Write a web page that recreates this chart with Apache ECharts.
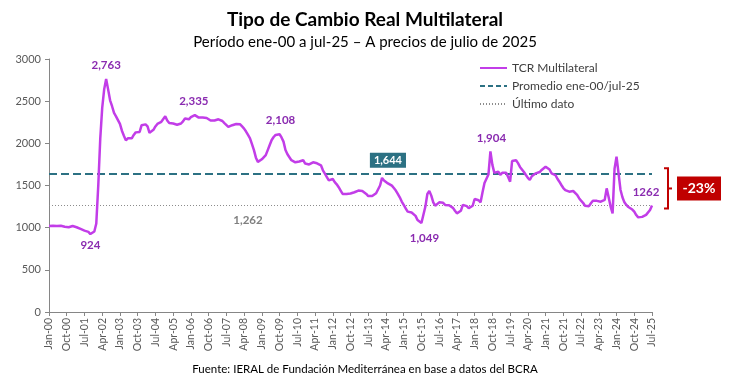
<!DOCTYPE html>
<html>
<head>
<meta charset="utf-8">
<script src="https://cdn.jsdelivr.net/npm/echarts@6/dist/echarts.min.js"></script>
<style>
  html, body { margin: 0; padding: 0; background: #fff; }
  #chart { width: 730px; height: 376px; }
</style>
</head>
<body>
<div id="chart"></div>
<script>
// TCR multilateral mensual, ene-00 a jul-25 (a precios de julio de 2025)
const tcr = [
  1020, 1025, 1022, 1028, 1020, 1015, 1022, 1018, 1010, 995, 1005, 1015,   // 2000
  1020, 1012, 1005, 998, 985, 975, 965, 958, 950, 924, 935, 955,           // 2001
  1050, 1500, 2050, 2420, 2640, 2763, 2640, 2510, 2440, 2360, 2320, 2300,  // 2002
  2230, 2150, 2090, 2035, 2060, 2075, 2060, 2100, 2130, 2140, 2135, 2215,  // 2003
  2230, 2225, 2200, 2125, 2140, 2160, 2200, 2230, 2240, 2255, 2270, 2320,  // 2004
  2270, 2240, 2225, 2235, 2240, 2220, 2200, 2235, 2260, 2295, 2290, 2285,  // 2005
  2310, 2325, 2335, 2320, 2305, 2295, 2305, 2315, 2300, 2290, 2270, 2265,  // 2006
  2270, 2280, 2285, 2275, 2265, 2240, 2220, 2195, 2205, 2215, 2225, 2230,  // 2007
  2225, 2225, 2200, 2175, 2140, 2100, 2060, 1990, 1920, 1830, 1780, 1790,  // 2008
  1811, 1830, 1860, 1920, 1980, 2040, 2075, 2100, 2105, 2108, 2070, 2020,  // 2009
  1920, 1870, 1850, 1800, 1783, 1775, 1780, 1785, 1790, 1800, 1760, 1743,  // 2010
  1750, 1760, 1775, 1770, 1763, 1750, 1740, 1680, 1640, 1600, 1560, 1555,  // 2011
  1577, 1540, 1514, 1480, 1440, 1400, 1395, 1400, 1408, 1405, 1408, 1420,  // 2012
  1430, 1440, 1447, 1435, 1420, 1400, 1375, 1356, 1375, 1395, 1408, 1385,  // 2013
  1500, 1590, 1560, 1545, 1525, 1510, 1498, 1470, 1440, 1400, 1360, 1310,  // 2014
  1270, 1230, 1190, 1190, 1180, 1165, 1140, 1090, 1070, 1055, 1049, 1250,  // 2015
  1400, 1435, 1380, 1300, 1260, 1270, 1300, 1305, 1295, 1270, 1255, 1265,  // 2016
  1250, 1235, 1200, 1170, 1185, 1200, 1270, 1285, 1255, 1230, 1210, 1260,  // 2017
  1340, 1335, 1325, 1300, 1420, 1530, 1540, 1630, 1904, 1745, 1650, 1660,  // 2018
  1665, 1625, 1650, 1672, 1650, 1600, 1545, 1790, 1810, 1800, 1765, 1720,  // 2019
  1690, 1660, 1624, 1590, 1565, 1610, 1630, 1644, 1660, 1660, 1684, 1700,  // 2020
  1723, 1710, 1690, 1645, 1630, 1624, 1580, 1545, 1506, 1470, 1445, 1430,  // 2021
  1427, 1430, 1435, 1415, 1390, 1350, 1320, 1295, 1260, 1240, 1255, 1290,  // 2022
  1320, 1330, 1318, 1312, 1308, 1318, 1330, 1466, 1360, 1250, 1170, 1700,  // 2023
  1842, 1650, 1450, 1360, 1300, 1269, 1245, 1230, 1215, 1190, 1150, 1122,  // 2024
  1118, 1128, 1140, 1152, 1175, 1210, 1262                                 // 2025
];
const meses = ['Jan', 'Feb', 'Mar', 'Apr', 'May', 'Jun', 'Jul', 'Aug', 'Sep', 'Oct', 'Nov', 'Dec'];
const promedio = 1644;
const ultimo = 1262;
const variacion = '-23%';
// meses destacados con su valor
const destacados = [21, 29, 74, 117, 190, 224, 306];

const FONT = 'Lato, "Open Sans", sans-serif';
const PURPLE = '#c23de8';
const PURPLE_TXT = '#8a2bb0';
const TEAL = '#2c7183';
const RED = '#c00000';

const cats = tcr.map((v, i) => meses[i % 12] + '-' + String(Math.floor(i / 12)).padStart(2, '0'));
const fmt = v => v.toLocaleString('en-US');

// desplazamientos de cada etiqueta
const offs = {21: [0, 11], 29: [0, -14], 74: [-1, -14], 117: [1, -14], 190: [1, 15], 224: [1, -13], 306: [-6, -13]};

const labelPts = destacados.map(i => ({
  coord: [cats[i], tcr[i]],
  value: tcr[i],
  label: {
    offset: offs[i],
    formatter: i === tcr.length - 1 ? String(tcr[i]) : fmt(tcr[i])
  }
}));

const dom = document.getElementById('chart');
const chart = echarts.init(dom);

const option = {
  animation: false,
  textStyle: { fontFamily: FONT },
  title: [
    { text: 'Tipo de Cambio Real Multilateral', left: 'center', top: 5,
      textStyle: { fontFamily: FONT, fontSize: 19, fontWeight: 'bold', color: '#000' } },
    { text: 'Período ene-00 a jul-25 – A precios de julio de 2025', left: 'center', top: 30,
      textStyle: { fontFamily: FONT, fontSize: 15, fontWeight: 'normal', color: '#000' } },
    { text: 'Fuente: IERAL de Fundación Mediterránea en base a datos del BCRA', left: 'center', top: 358,
      textStyle: { fontFamily: FONT, fontSize: 11.5, fontWeight: 'normal', color: '#000' } }
  ],
  legend: {
    orient: 'vertical',
    left: 474,
    top: 57,
    itemWidth: 27,
    itemHeight: 12,
    itemGap: 6,
    itemStyle: { opacity: 0 },
    textStyle: { fontFamily: FONT, fontSize: 12, color: '#404040' },
    data: [
      { name: 'TCR Multilateral' },
      { name: 'Promedio ene-00/jul-25', lineStyle: { type: [5, 3] } },
      { name: 'Último dato', lineStyle: { type: [1, 2] } }
    ]
  },
  grid: { left: 49, right: 78, top: 59, bottom: 64 },
  xAxis: {
    type: 'category',
    data: cats,
    boundaryGap: false,
    axisLine: { lineStyle: { color: '#868686' } },
    axisTick: { interval: 8, length: 4, lineStyle: { color: '#868686' } },
    axisLabel: { interval: 8, rotate: 90, fontSize: 10.5, color: '#595959', margin: 6, fontFamily: FONT }
  },
  yAxis: {
    type: 'value',
    min: 0,
    max: 3000,
    interval: 500,
    axisLine: { show: true, lineStyle: { color: '#868686' } },
    axisTick: { show: true, length: 4, lineStyle: { color: '#868686' } },
    splitLine: { show: false },
    axisLabel: { fontSize: 11, color: '#595959', margin: 8, fontFamily: FONT, formatter: v => String(v) }
  },
  series: [
    {
      name: 'TCR Multilateral',
      type: 'line',
      data: tcr,
      symbol: 'none',
      z: 5,
      lineStyle: { color: PURPLE, width: 2.5 },
      itemStyle: { color: PURPLE },
      markPoint: {
        symbol: 'circle',
        symbolSize: 0,
        silent: true,
        label: {
          show: true,
          position: 'inside',
          color: PURPLE_TXT,
          fontWeight: 'bold',
          fontSize: 11.5,
          fontFamily: FONT
        },
        data: labelPts
      }
    },
    {
      name: 'Promedio ene-00/jul-25',
      type: 'line',
      data: [],
      symbol: 'none',
      lineStyle: { color: TEAL, width: 2, type: [8, 4] },
      itemStyle: { color: TEAL },
      markLine: {
        symbol: 'none',
        silent: true,
        label: { show: false },
        lineStyle: { color: TEAL, width: 2, type: [8, 4] },
        data: [{ yAxis: promedio }]
      },
      markPoint: {
        symbol: 'circle',
        symbolSize: 0,
        silent: true,
        label: {
          show: true,
          position: 'inside',
          offset: [0, -13],
          color: '#fff',
          backgroundColor: TEAL,
          padding: [2, 4],
          fontWeight: 'bold',
          fontSize: 11,
          fontFamily: FONT,
          formatter: () => fmt(promedio)
        },
        data: [{ coord: [cats[172], promedio] }]
      }
    },
    {
      name: 'Último dato',
      type: 'line',
      data: [],
      symbol: 'none',
      lineStyle: { color: '#8c8c8c', width: 1, type: [1, 2] },
      itemStyle: { color: '#8c8c8c' },
      markLine: {
        symbol: 'none',
        silent: true,
        label: { show: false },
        lineStyle: { color: '#8c8c8c', width: 1, type: [1, 2] },
        data: [{ yAxis: ultimo }]
      },
      markPoint: {
        symbol: 'circle',
        symbolSize: 0,
        silent: true,
        label: {
          show: true,
          position: 'inside',
          offset: [0, 15],
          color: '#7f7f7f',
          fontWeight: 'bold',
          fontSize: 11.5,
          fontFamily: FONT,
          formatter: () => fmt(ultimo)
        },
        data: [{ coord: [cats[101], ultimo] }]
      }
    }
  ]
};

chart.setOption(option);

// llave y recuadro de variación entre promedio y último dato
const yProm = chart.convertToPixel({ yAxisIndex: 0 }, promedio);
const yUlt = chart.convertToPixel({ yAxisIndex: 0 }, ultimo);
const yTop = yProm - 5, yBot = yUlt + 3, yMid = (yTop + yBot) / 2;
chart.setOption({
  graphic: [
    {
      type: 'polyline',
      shape: { points: [[664, yTop], [668, yTop], [668, yBot], [664, yBot]] },
      style: { stroke: RED, lineWidth: 2, fill: null }
    },
    {
      type: 'line',
      shape: { x1: 668, y1: yMid, x2: 672, y2: yMid },
      style: { stroke: RED, lineWidth: 2 }
    },
    {
      type: 'rect',
      shape: { x: 677, y: yMid - 12, width: 44, height: 24 },
      style: { fill: RED }
    },
    {
      type: 'text',
      x: 699,
      y: yMid,
      style: {
        text: variacion, fill: '#fff', font: 'bold 14px ' + FONT,
        align: 'center', verticalAlign: 'middle'
      }
    }
  ]
});

window.addEventListener('resize', function () {
  chart.resize();
});
</script>
</body>
</html>
